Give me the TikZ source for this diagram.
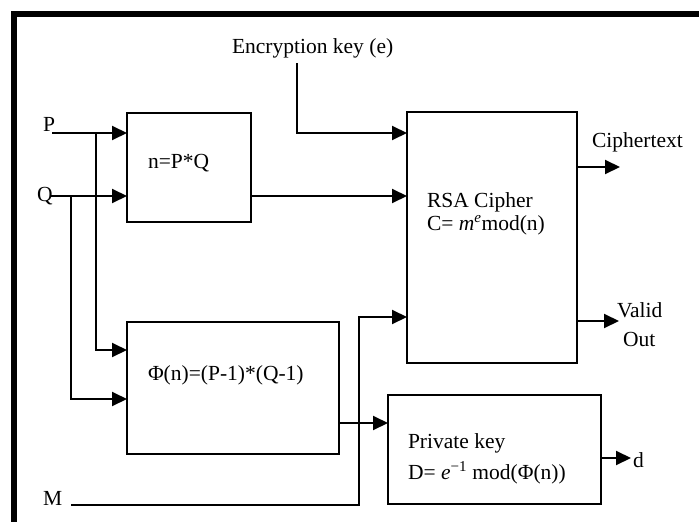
\documentclass[tikz,border=0pt]{standalone}
\usepackage{fontspec}
\setmainfont{Liberation Serif}
\usetikzlibrary{arrows.meta}
\begin{document}
\begin{tikzpicture}[x=1pt,y=-1pt,
  box/.style={draw, line width=2pt, inner sep=0pt, outer sep=0pt},
  lbl/.style={inner sep=0pt, outer sep=0pt, anchor=base west, font=\fontsize{21.5}{24}\selectfont},
  arr/.style={line width=2pt, -{Triangle[length=15pt,width=14pt]}}]
\useasboundingbox (0,0) rectangle (699,522);
% frame
\draw[line width=6pt, line join=miter] (699,14) -- (14,14) -- (14,522);
% boxes
\node[box, minimum width=124pt, minimum height=109pt] (nbox) at (189,167.5) {};
\node[box, minimum width=170pt, minimum height=251pt] (rsa) at (492,237.5) {};
\node[box, minimum width=212pt, minimum height=132pt] (phi) at (233,388) {};
\node[box, minimum width=213pt, minimum height=109pt] (priv) at (494.5,449.5) {};
% texts
\node[lbl] (key) at (232,53) {Encryption key (e)};
\node[lbl] (P) at (43,131) {P};
\node[lbl] (Q) at (37,201) {Q};
\node[lbl] (M) at (43,505) {M};
\node[lbl] (ntxt) at (148,168) {n=P*Q};
\node[lbl] (phitxt) at (148,380) {Φ(n)=(P-1)*(Q-1)};
\node[lbl] (rsa1) at (427,207) {RSA Cipher};
\node[lbl] (rsa2) at (427,230) {C= {\itshape m}\textsuperscript{\itshape e}mod(n)};
\node[lbl] (ctxt) at (592,147) {Ciphertext};
\node[lbl] (valid) at (617,317) {Valid};
\node[lbl] (out) at (623,346) {Out};
\node[lbl] (priv1) at (408,448) {Private key};
\node[lbl] (priv2) at (408,479) {D= {\itshape e}\textsuperscript{−1} mod(Φ(n))};
\node[lbl] (dtxt) at (633,467) {d};
% coordinates
\coordinate (pin) at (52,133);
\coordinate (qin) at (50,196);
\coordinate (pj) at (96,133);
\coordinate (qj) at (71,196);
\coordinate (ya) at (0,350);
\coordinate (yb) at (0,399);
\coordinate (k0) at (297,63);
\coordinate (yk) at (0,133);
\coordinate (yphi) at (0,423);
\coordinate (m0) at (71,505);
\coordinate (mj) at (359,505);
\coordinate (yv) at (0,317);
\coordinate (ct) at (620,167);
\coordinate (vo) at (619,321);
\coordinate (dout) at (631,458);
% connectors
\draw[arr] (pin) -- (nbox.west |- pin);
\draw[arr] (qin) -- (nbox.west |- qin);
\draw[arr] (pj) |- (phi.west |- ya);
\draw[arr] (qj) |- (phi.west |- yb);
\draw[arr] (nbox.east |- qin) -- (rsa.west |- qin);
\draw[arr] (k0) |- (rsa.west |- yk);
\draw[arr] (phi.east |- yphi) -- (priv.west |- yphi);
\draw[arr] (m0) -- (mj) |- (rsa.west |- yv);
\draw[arr] (rsa.east |- ct) -- (ct);
\draw[arr] (rsa.east |- vo) -- (vo);
\draw[arr] (priv.east |- dout) -- (dout);
\end{tikzpicture}
\end{document}
